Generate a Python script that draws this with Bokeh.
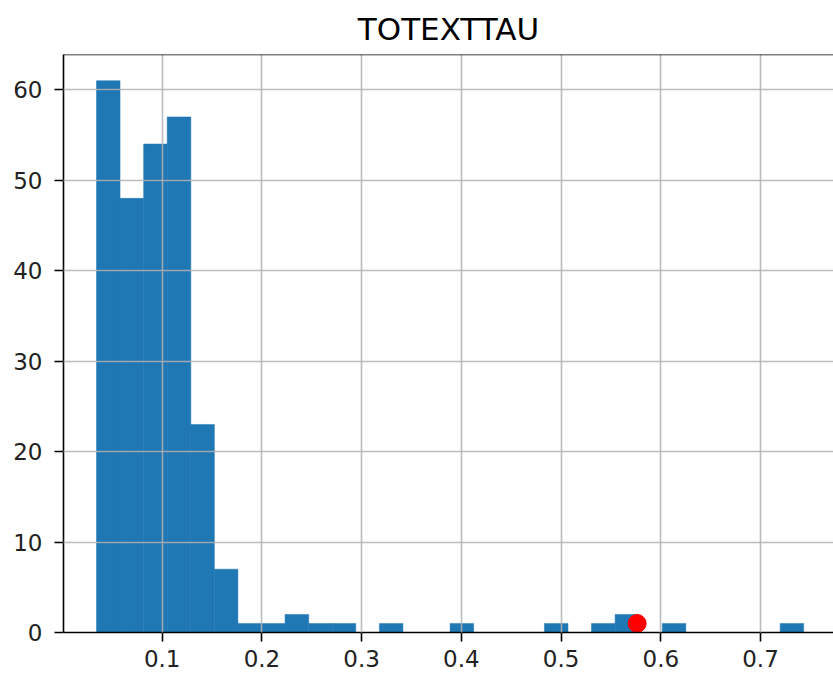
from bokeh.plotting import figure
from bokeh.models import FixedTicker, PrintfTickFormatter, Range1d, Span, ColumnDataSource
from bokeh.embed import file_html
from bokeh.resources import INLINE

# histogram data
bin_edges = [0.0341, 0.0577, 0.0814, 0.1050, 0.1287, 0.1523, 0.1759, 0.1996,
             0.2232, 0.2469, 0.2705, 0.2941, 0.3178, 0.3414, 0.3651, 0.3887,
             0.4123, 0.4360, 0.4596, 0.4833, 0.5069, 0.5305, 0.5542, 0.5778,
             0.6015, 0.6251, 0.6487, 0.6724, 0.6960, 0.7197, 0.7433]
counts = [61, 48, 54, 57, 23, 7, 1, 1, 2, 1, 1, 0, 1, 0, 0, 1, 0, 0, 0, 1,
          0, 1, 2, 0, 1, 0, 0, 0, 0, 1]
marker_x = [0.5763]
marker_y = [1]
x_ticks = [0.1, 0.2, 0.3, 0.4, 0.5, 0.6, 0.7]
y_ticks = [0, 10, 20, 30, 40, 50, 60]
title_text = "TOTEXTTAU"

FONT = "DejaVu Sans"

p = figure(width=833, height=676, output_backend="svg", toolbar_location=None,
           x_range=Range1d(0.001, 0.7732), y_range=Range1d(0, 63.9),
           min_border_left=63, min_border_right=0, min_border_top=53,
           min_border_bottom=44, title=title_text)
p.background_fill_color = "white"
p.border_fill_color = "white"
p.outline_line_color = None

p.title.text_font = FONT
p.title.text_font_size = "31px"
p.title.text_font_style = "normal"
p.title.align = "center"
p.title.text_color = "black"
p.title.standoff = 16

src = ColumnDataSource(dict(left=bin_edges[:-1], right=bin_edges[1:],
                            top=counts, bottom=[0] * len(counts)))
p.quad(left="left", right="right", top="top", bottom="bottom", source=src,
       fill_color="#1f77b4", line_color="#1f77b4", line_width=0.5)

p.scatter(marker_x, marker_y, size=18, fill_color="red", line_color="red")

for ax in (p.xaxis[0], p.yaxis[0]):
    ax.axis_line_color = "black"
    ax.axis_line_width = 1.6
    ax.major_tick_line_color = "black"
    ax.major_tick_line_width = 1.6
    ax.major_tick_out = 9
    ax.major_tick_in = 0
    ax.minor_tick_line_color = None
    ax.major_label_text_font = FONT
    ax.major_label_text_font_size = "23px"
    ax.major_label_text_color = "#222222"

p.xaxis.ticker = FixedTicker(ticks=x_ticks)
p.xaxis.formatter = PrintfTickFormatter(format="%.1f")
p.xaxis.major_label_standoff = 8
p.yaxis.ticker = FixedTicker(ticks=y_ticks)
p.yaxis.formatter = PrintfTickFormatter(format="%d")
p.yaxis.major_label_standoff = 12

for g in (p.xgrid[0], p.ygrid[0]):
    g.grid_line_color = "#b0b0b0"
    g.grid_line_width = 1.6
    g.grid_line_alpha = 0.85
    g.level = "annotation"

top_spine = Span(location=63.9, dimension="width", line_color="black", line_width=1.6)
p.add_layout(top_spine)

open("out.html", "w").write(file_html(p, INLINE))
